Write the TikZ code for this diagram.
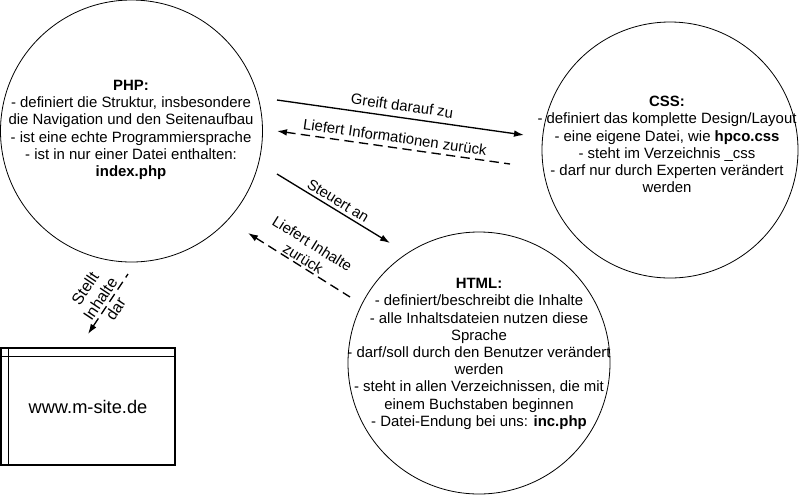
\documentclass[tikz,border=0pt]{standalone}
\usepackage{fontspec}
\setmainfont{Liberation Sans}
\usetikzlibrary{arrows.meta}

\tikzset{every picture/.style={line width=0.75pt}}
\tikzset{
  bubble/.style={draw, circle, line width=0.6pt, inner sep=0pt},
  info/.style={align=center, font=\fontsize{11.2}{12.9}\selectfont},
  lbl/.style={info, sloped},
  tip/.style={line width=1pt, -{Latex[length=7.5pt,width=5pt]}},
  tipback/.style={line width=1pt, {Latex[length=7.5pt,width=5pt]}-, dash pattern=on 7pt off 4pt},
  window/.style={draw, line width=1pt, minimum width=130.5pt, minimum height=87.75pt, font=\fontsize{13.7}{16}\selectfont}
}

\begin{document}
\begin{tikzpicture}[x=0.75pt,y=-0.75pt]
	\useasboundingbox (0,0) rectangle (800,494);

	%Shape: Circle [PHP]
	\node[bubble, minimum size=196.5pt] (php) at (131.5,131) {};
	%Shape: Circle [CSS]
	\node[bubble, minimum size=192pt] (css) at (670,150) {};
	%Shape: Circle [HTML]
	\node[bubble, minimum size=196.5pt] (html) at (479,363) {};
	%Shape: Window
	\node[window] (site) at (88,406.5) {www.m-site.de};
	\draw[line width=1pt] ([yshift=-6.75pt]site.north west) -- ([yshift=-6.75pt]site.north east);
	\draw[line width=1pt] ([xshift=6pt]site.north west) -- ([xshift=6pt]site.south west);

	% Text Node
	\node[info] (phptext) at (131,130) {\textbf{PHP:}\\- definiert die Struktur, insbesondere\\die Navigation und den Seitenaufbau\\- ist eine echte Programmiersprache\\- ist in nur einer Datei enthalten:\\\textbf{index.php}};
	% Text Node
	\node[info] (csstext) at (667,144.5) {\textbf{CSS:}\\- definiert das komplette Design/Layout\\- eine eigene Datei, wie \textbf{hpco.css}\\- steht im Verzeichnis \_css\\- darf nur durch Experten verändert\\werden};
	% Text Node
	\node[info] (htmltext) at (479,354) {\textbf{HTML:}\\- definiert/beschreibt die Inhalte\\- alle Inhaltsdateien nutzen diese\\Sprache\\- darf/soll durch den Benutzer verändert\\werden\\- steht in allen Verzeichnissen, die mit\\einem Buchstaben beginnen\\- Datei-Endung bei uns: \textbf{inc.php}};

	%Straight Lines [ends]
	\coordinate (greiftA) at (277,100);
	\coordinate (greiftB) at (524,135);
	\coordinate (infoA) at (277,131);
	\coordinate (infoB) at (510,164);
	\coordinate (steuertA) at (277,174);
	\coordinate (steuertB) at (390,243);
	\coordinate (inhaltA) at (248,233);
	\coordinate (inhaltB) at (350,297);
	\coordinate (stelltA) at (88,334);
	\coordinate (stelltB) at (128,274);

	%Straight Lines
	\draw[tip] (greiftA) -- node[lbl, above=1pt] {Greift darauf zu} (greiftB);
	\draw[tipback] (infoA) -- node[lbl, above] {Liefert Informationen zurück} (infoB);
	\draw[tip] (steuertA) -- node[lbl, above=-1pt] {Steuert an} (steuertB);
	\draw[tipback] (inhaltA) -- node[lbl, above=-2pt] {Liefert Inhalte\\zurück} (inhaltB);
	\draw[tipback] (stelltA) -- node[lbl, above=-15pt, font=\fontsize{12}{13.8}\selectfont] {Stellt\\Inhalte\\dar} (stelltB);

\end{tikzpicture}
\end{document}
